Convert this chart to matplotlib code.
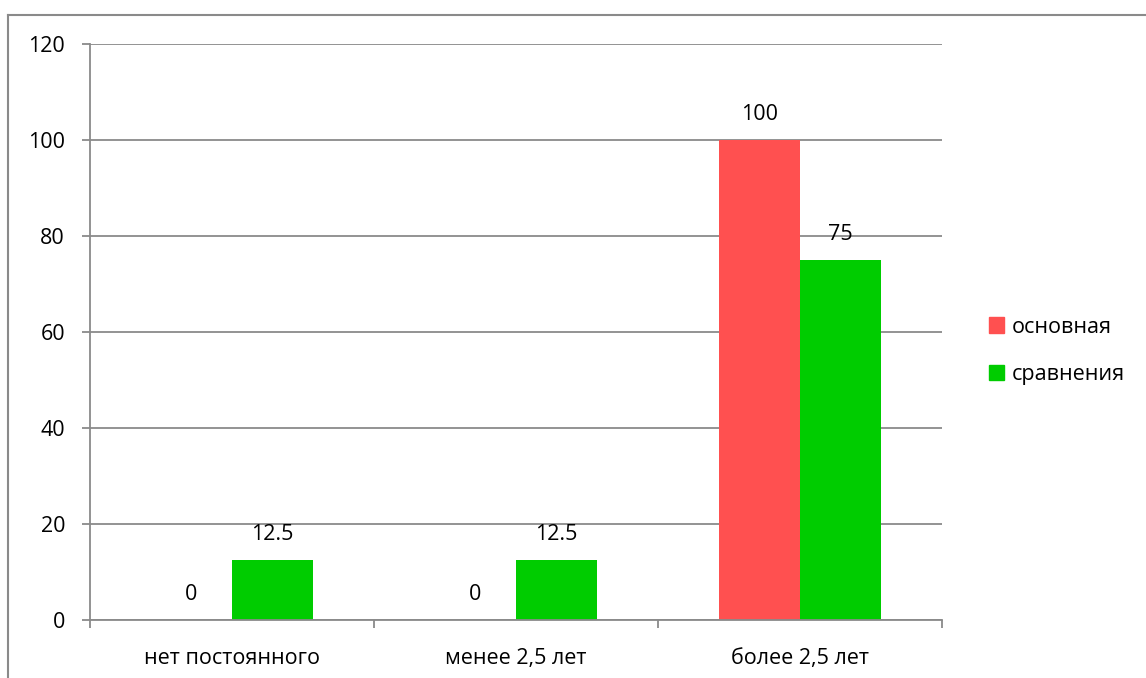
import matplotlib.pyplot as plt
import numpy as np
from matplotlib.lines import Line2D
from matplotlib.patches import Patch

categories = ['нет постоянного', 'менее 2,5 лет', 'более 2,5 лет']
osnovnaya = [0, 0, 100]
sravneniya = [12.5, 12.5, 75]
series_names = ['основная', 'сравнения']
colors = ['#FF5050', '#00CC00']
yticks = [0, 20, 40, 60, 80, 100, 120]

plt.rcParams['font.family'] = ['Open Sans', 'DejaVu Sans']
grey = '#8a8a8a'

fig = plt.figure(figsize=(11.46, 6.78), dpi=100)
ax = fig.add_axes([90/1146, 58/678, 852/1146, 576/678])

x = np.arange(len(categories))
w = 0.285
b1 = ax.bar(x - w/2, osnovnaya, w, color=colors[0], label=series_names[0])
b2 = ax.bar(x + w/2, sravneniya, w, color=colors[1], label=series_names[1])

for bars, vals in ((b1, osnovnaya), (b2, sravneniya)):
    for r, v in zip(bars, vals):
        ax.annotate('%g' % v, (r.get_x() + r.get_width()/2, v),
                    xytext=(0, 11), textcoords='offset points',
                    ha='center', va='bottom', fontsize=15.5)

ax.set_xlim(-0.5, 2.5)
ax.set_ylim(0, 120)
ax.set_yticks(yticks)
ax.yaxis.grid(True, color=grey, linewidth=1.3)
ax.set_axisbelow(True)

ax.set_xticks(x)
ax.set_xticklabels(categories, fontsize=15.5)
ax.set_xticks([-0.5, 0.5, 1.5, 2.5], minor=True)
ax.tick_params(axis='x', which='major', length=0, pad=20)
ax.tick_params(axis='x', which='minor', length=6, color=grey, width=1.3)
ax.tick_params(axis='y', length=6, color=grey, width=1.3, labelsize=15.5, pad=12)

for s in ['top', 'right']:
    ax.spines[s].set_visible(False)
for s in ['left', 'bottom']:
    ax.spines[s].set_color(grey)
    ax.spines[s].set_linewidth(1.3)

handles = [Patch(color=c) for c in colors]
fig.legend(handles, series_names, loc='center left',
           bbox_to_anchor=(970/1146, 1 - 351/678), frameon=False,
           fontsize=15.5, handlelength=0.7, handleheight=0.7,
           handletextpad=0.35, labelspacing=1.25)

# outer chart border
fig.add_artist(Line2D([8/1146, 8/1146], [0, 1 - 15/678], color=grey, linewidth=1.5))
fig.add_artist(Line2D([8/1146, 1], [1 - 15/678, 1 - 15/678], color=grey, linewidth=1.5))

plt.savefig('out.png', dpi=100)
plt.close()
